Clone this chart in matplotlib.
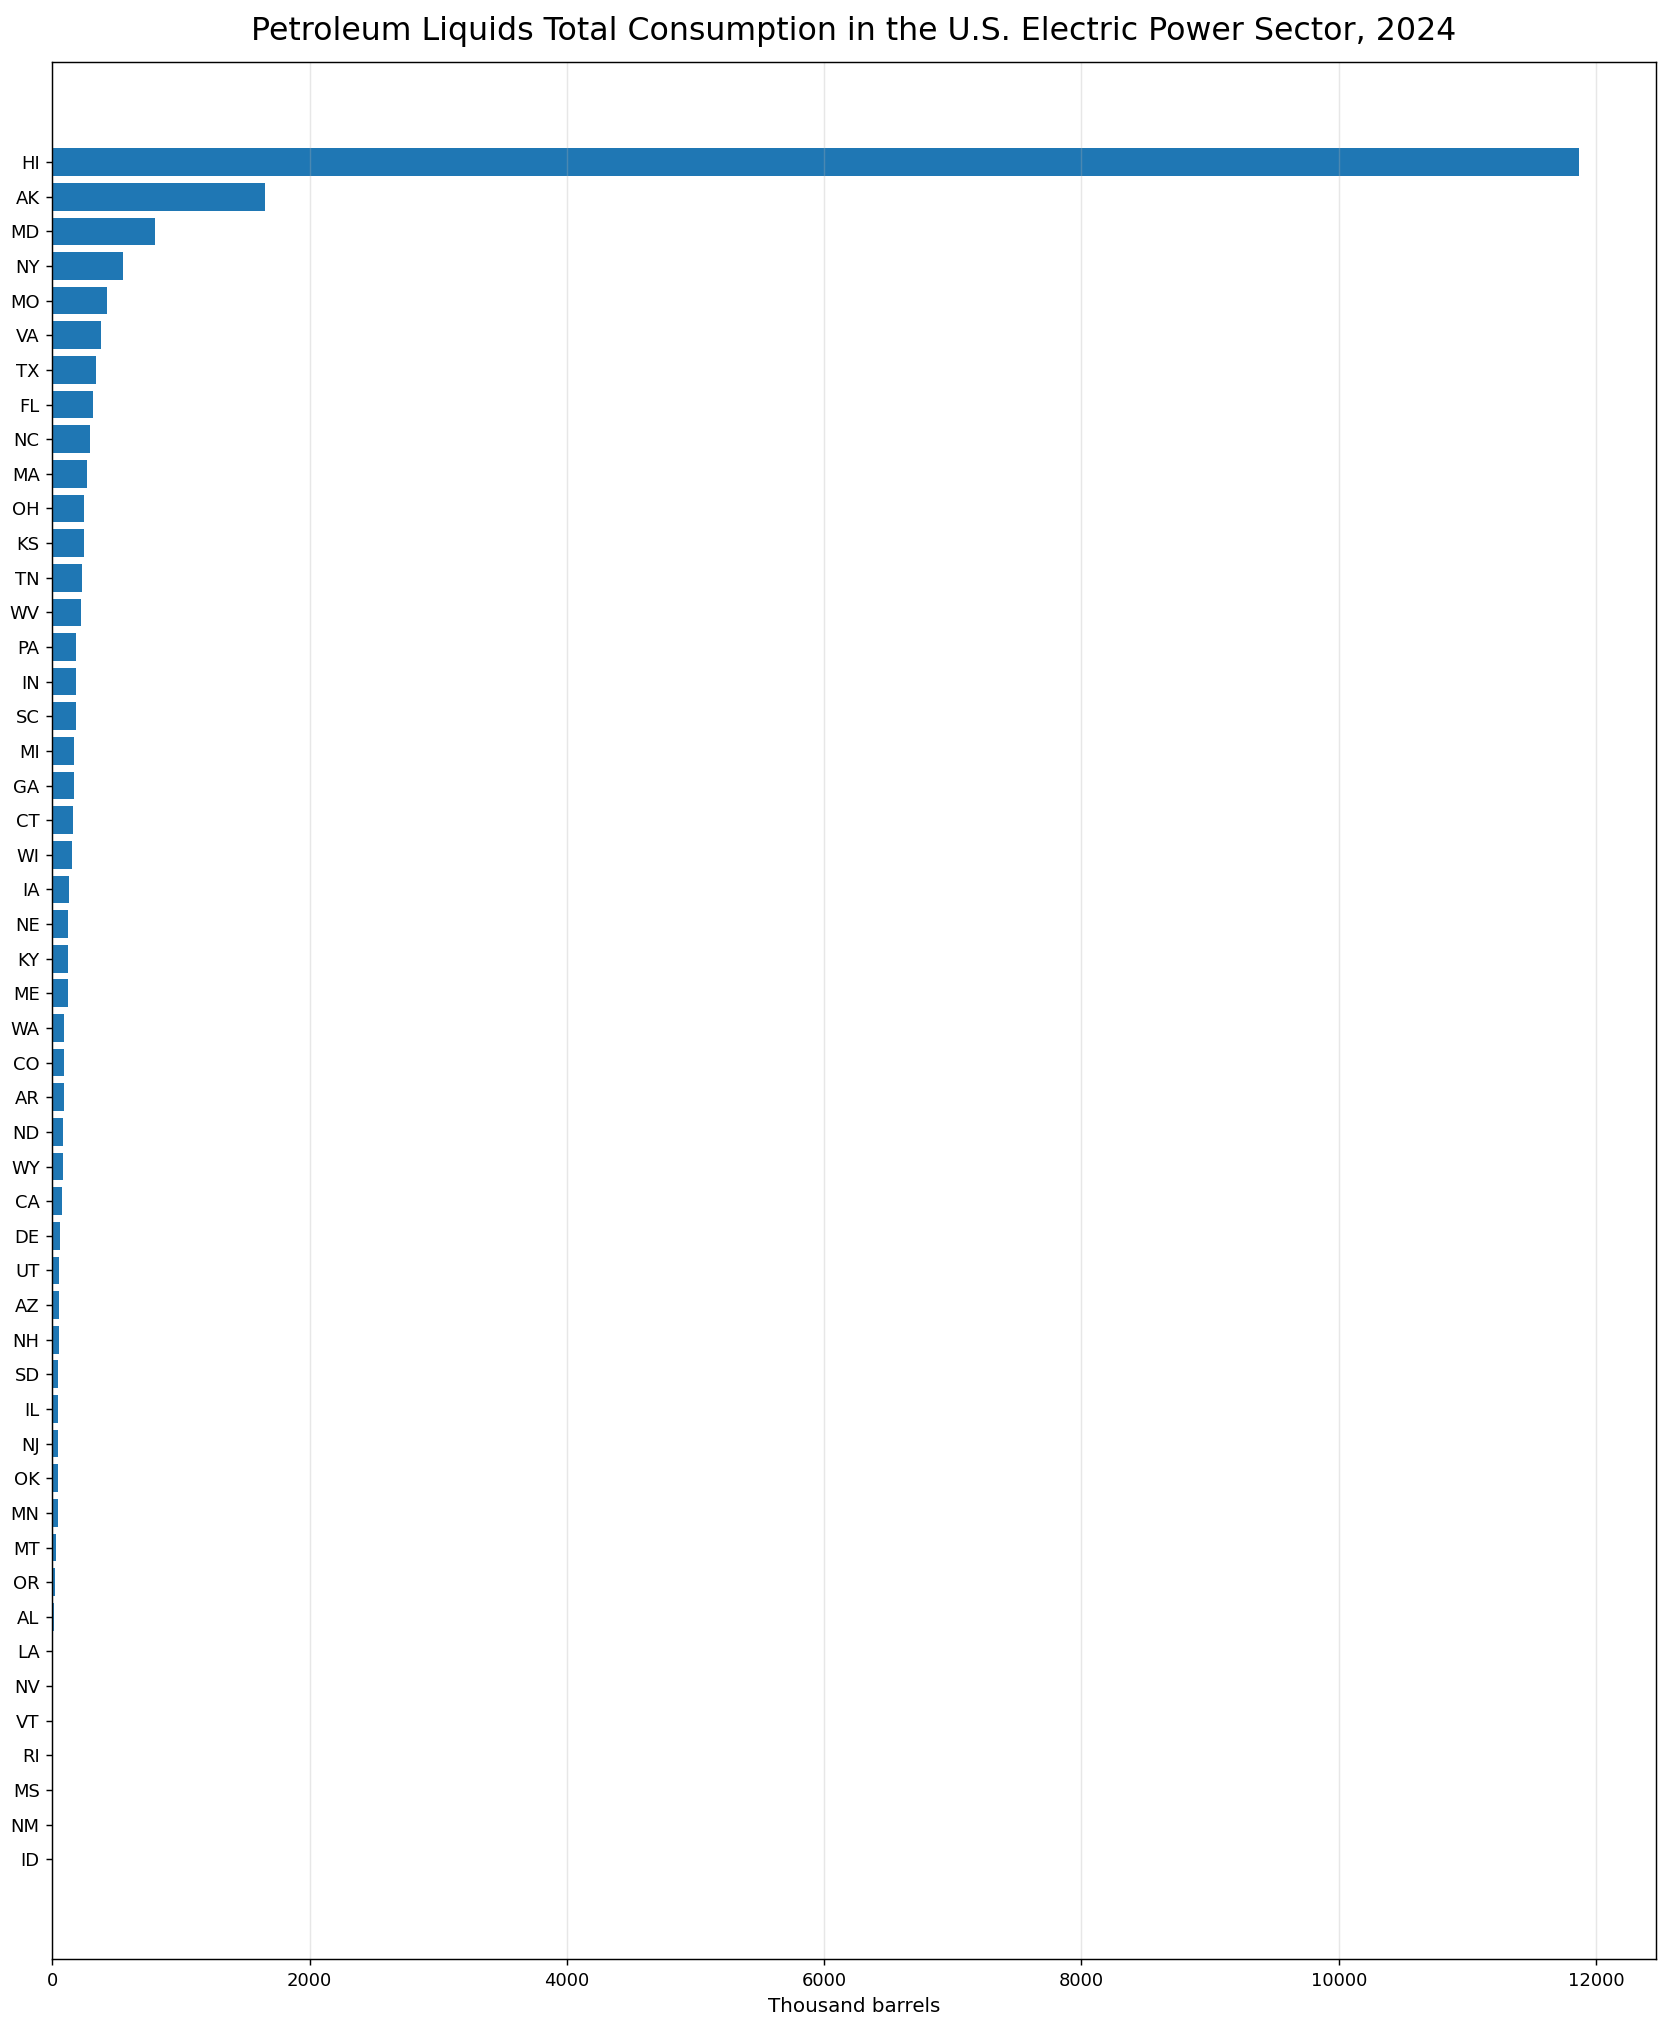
import matplotlib
matplotlib.use("Agg")
import matplotlib.pyplot as plt
import numpy as np

# 2024 petroleum liquids consumption by state, thousand barrels
states = [
    "HI", "AK", "MD", "NY", "MO", "VA", "TX", "FL", "NC", "MA",
    "OH", "KS", "TN", "WV", "PA", "IN", "SC", "MI", "GA", "CT",
    "WI", "IA", "NE", "KY", "ME", "WA", "CO", "AR", "ND", "WY",
    "CA", "DE", "UT", "AZ", "NH", "SD", "IL", "NJ", "OK", "MN",
    "MT", "OR", "AL", "LA", "NV", "VT", "RI", "MS", "NM", "ID",
]
consumption = [
    11870, 1653, 798, 549, 425, 378, 340, 316, 293, 270,
    247, 246, 231, 223, 185, 184, 184, 170, 169, 161,
    153, 130, 123, 122, 122, 92, 91, 91, 83, 83,
    75, 60, 53, 52, 52, 45, 44, 44, 44, 44,
    29, 21, 9, 7, 1.5, 0.8, 0.5, 0.3, 0.2, 0.1,
]

DPI = 130
fig, ax = plt.subplots(figsize=(1667 / DPI, 2026 / DPI), dpi=DPI)

ypos = np.arange(len(states))[::-1]
ax.barh(ypos, consumption, color="#1f77b4")
ax.set_yticks(ypos)
ax.set_yticklabels(states)
ax.set_xlabel("Thousand barrels", fontsize=11)
ax.set_title("Petroleum Liquids Total Consumption in the U.S. Electric Power Sector, 2024",
             fontsize=17.5, pad=12)
ax.grid(axis="x", alpha=0.3)

fig.subplots_adjust(left=0.0314, right=0.9932, top=0.9694, bottom=0.0329)
fig.savefig("out.png", dpi=DPI)
plt.close(fig)
